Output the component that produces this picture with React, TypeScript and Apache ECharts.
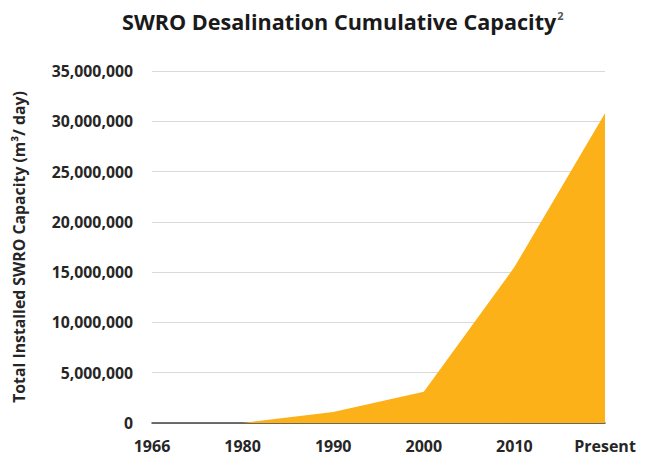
import React, { useEffect, useRef } from "react";
import * as echarts from "echarts";

const categories = ["1966", "1980", "1990", "2000", "2010", "Present"];
const capacity = [0, 0, 1100000, 3100000, 15500000, 30800000];
const yTicks = [0, 5000000, 10000000, 15000000, 20000000, 25000000, 30000000, 35000000];

const FONT = "'Open Sans', Lato, sans-serif";

export default function App() {
  const ref = useRef<HTMLDivElement>(null);
  useEffect(() => {
    if (!ref.current) return;
    const chart = echarts.init(ref.current, undefined, { renderer: "svg" });
    chart.setOption({
      animation: false,
      backgroundColor: "#ffffff",
      title: {
        text: "{t|SWRO Desalination Cumulative Capacity}{s|2}",
        left: 117,
        top: 5,
        textStyle: {
          rich: {
            t: { fontFamily: FONT, fontSize: 21.6, fontWeight: "bold", color: "#1a1a1a" },
            s: { fontFamily: FONT, fontSize: 11, color: "#555", verticalAlign: "top", padding: [0, 0, 12, 1] },
          },
        },
      },
      grid: { left: 152, right: 41, top: 71, bottom: 41 },
      xAxis: {
        type: "category",
        data: categories,
        boundaryGap: false,
        axisLine: { show: true, lineStyle: { color: "#404040", width: 1.5 } },
        axisTick: { show: false },
        axisLabel: {
          fontFamily: FONT,
          fontSize: 16,
          fontWeight: "bold",
          color: "#262626",
          margin: 15,
        },
      },
      yAxis: {
        type: "value",
        min: yTicks[0],
        max: yTicks[yTicks.length - 1],
        interval: yTicks[1] - yTicks[0],
        name: "Total Installed SWRO Capacity (m³/ day)",
        nameLocation: "middle",
        nameGap: 125,
        nameRotate: 90,
        nameTextStyle: { fontFamily: FONT, fontSize: 15.8, fontWeight: "bold", color: "#262626" },
        axisLine: { show: false },
        axisTick: { show: false },
        splitLine: { lineStyle: { color: "#d9d9d9", width: 1 } },
        axisLabel: {
          fontFamily: FONT,
          fontSize: 15.8,
          fontWeight: "bold",
          color: "#262626",
          margin: 19,
          formatter: (v: number) => v.toLocaleString("en-US"),
        },
      },
      series: [
        {
          type: "line",
          data: capacity,
          symbol: "none",
          lineStyle: { width: 0 },
          areaStyle: { color: "#FBB117", opacity: 1 },
          itemStyle: { color: "#FBB117" },
        },
      ],
    });
    return () => chart.dispose();
  }, []);
  return (
    <div
      ref={ref}
      style={{ position: "absolute", left: 0, top: 0, width: 646, height: 464 }}
    />
  );
}
